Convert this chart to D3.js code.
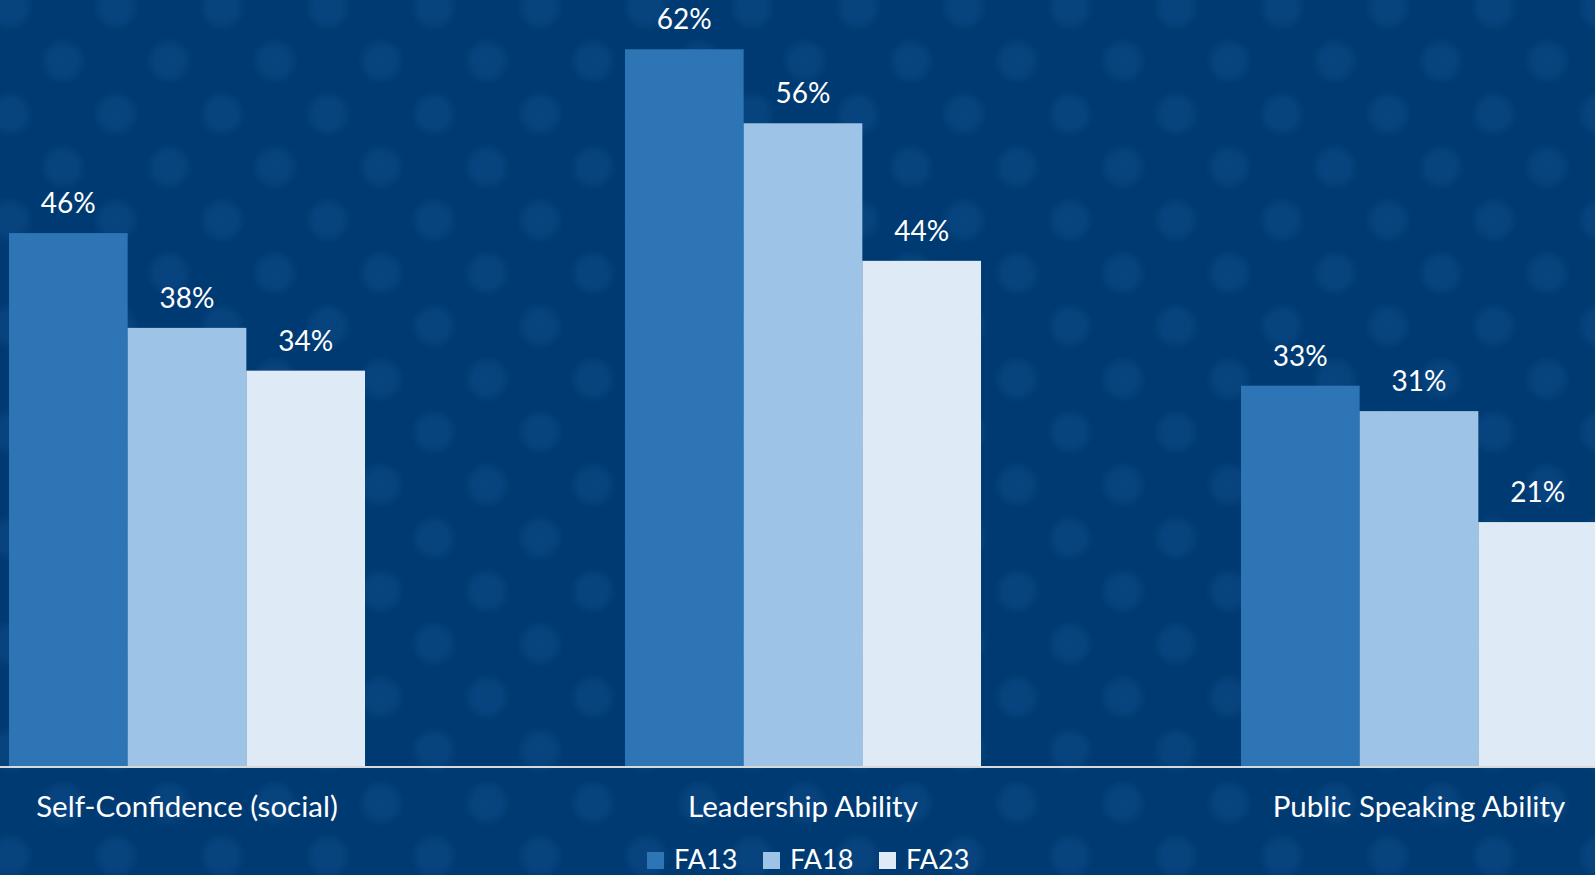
<!DOCTYPE html>
<html>
<head>
<meta charset="utf-8">
<script src="https://cdn.jsdelivr.net/npm/d3@7"></script>
<style>
	html, body { margin: 0; padding: 0; background: #003a72; overflow: hidden; }
	#chart { display: block; }
	text { font-family: Lato, "Open Sans", sans-serif; fill: #ffffff; }
</style>
</head>
<body>
<svg id="chart"></svg>
<script>

var categories = ["Self-Confidence (social)", "Leadership Ability", "Public Speaking Ability"];
var seriesNames = ["FA13", "FA18", "FA23"];
var fa13 = [46.1, 62.0, 32.9];
var fa18 = [37.9, 55.6, 30.7];
var fa23 = [34.2, 43.7, 21.1];
var seriesColors = ["#2e75b6", "#9dc3e6", "#deebf7"];

var w = 1595,
	h = 875,
	baseline = 766;

var formatPct = d3.format(".0f");

var xScale = d3.scaleBand()
	.domain(categories)
	.range([-121, 1727])
	.paddingInner(0.422)
	.paddingOuter(0.211);

var subScale = d3.scaleBand()
	.domain(seriesNames)
	.range([0, xScale.bandwidth()]);

var yScale = d3.scaleLinear()
	.domain([0, 65])
	.range([baseline, baseline - 65 * 11.56]);

var colScale = d3.scaleOrdinal()
	.domain(seriesNames)
	.range(seriesColors);

var svg = d3.select("#chart")
	.attr("width", w)
	.attr("height", h);

// background with the soft dots
var defs = svg.append("defs");

var glow = defs.append("radialGradient")
	.attr("id", "dotFill");
glow.append("stop").attr("offset", "0%").attr("stop-color", "#08447f").attr("stop-opacity", 1);
glow.append("stop").attr("offset", "60%").attr("stop-color", "#08447f").attr("stop-opacity", 0.85);
glow.append("stop").attr("offset", "100%").attr("stop-color", "#08447f").attr("stop-opacity", 0);

var pattern = defs.append("pattern")
	.attr("id", "dots")
	.attr("patternUnits", "userSpaceOnUse")
	.attr("x", 10)
	.attr("y", 8)
	.attr("width", 106)
	.attr("height", 106);

[[0, 0], [106, 0], [0, 106], [106, 106], [53, 53]].forEach(function(p) {
	pattern.append("circle")
		.attr("cx", p[0])
		.attr("cy", p[1])
		.attr("r", 24)
		.attr("fill", "url(#dotFill)");
});

svg.append("rect")
	.attr("width", w)
	.attr("height", h)
	.attr("fill", "#003a72");

svg.append("rect")
	.attr("width", w)
	.attr("height", h)
	.attr("fill", "url(#dots)");

var data = categories.map(function(c, i) {
	return {
		category: c,
		values: [
			{ name: seriesNames[0], val: fa13[i] },
			{ name: seriesNames[1], val: fa18[i] },
			{ name: seriesNames[2], val: fa23[i] }
		]
	};
});

var groups = svg.append("g")
	.attr("class", "groups")
	.selectAll("g")
	.data(data)
	.enter()
	.append("g")
	.attr("transform", function(d) { return "translate(" + xScale(d.category) + ",0)"; });

groups.selectAll("rect")
	.data(function(d) { return d.values; })
	.enter()
	.append("rect")
	.attr("x", function(d) { return subScale(d.name); })
	.attr("y", function(d) { return yScale(d.val); })
	.attr("width", subScale.bandwidth())
	.attr("height", function(d) { return baseline - yScale(d.val); })
	.attr("fill", function(d) { return colScale(d.name); });

groups.selectAll(".label")
	.data(function(d) { return d.values; })
	.enter()
	.append("text")
	.attr("class", "label")
	.attr("x", function(d) { return subScale(d.name) + subScale.bandwidth() / 2; })
	.attr("y", function(d) { return yScale(d.val) - 20; })
	.attr("text-anchor", "middle")
	.style("font-size", "28px")
	.text(function(d) { return formatPct(d.val) + "%"; });

// x axis: line plus category names
var xAxis = d3.axisBottom(xScale)
	.tickSize(0)
	.tickPadding(32);

var axisG = svg.append("g")
	.attr("class", "xAxis")
	.attr("transform", "translate(0," + baseline + ")")
	.call(xAxis);

axisG.select(".domain").remove();
axisG.append("line")
	.attr("x1", 0)
	.attr("x2", w)
	.attr("y1", 1)
	.attr("y2", 1)
	.attr("stroke", "#d9d9d9")
	.attr("stroke-width", 2);

axisG.selectAll(".tick text")
	.attr("dy", null)
	.attr("y", 51)
	.style("font-size", "29.5px")
	.style("font-family", "Lato, 'Open Sans', sans-serif")
	.attr("fill", "#ffffff");

// legend
var legend = svg.append("g")
	.attr("class", "legend")
	.selectAll("g")
	.data(seriesNames)
	.enter()
	.append("g")
	.attr("transform", function(d, i) { return "translate(" + (647 + i * 116) + ",0)"; });

legend.append("rect")
	.attr("y", 852)
	.attr("width", 17)
	.attr("height", 17)
	.attr("fill", function(d) { return colScale(d); });

legend.append("text")
	.attr("x", 27)
	.attr("y", 869)
	.style("font-size", "27px")
	.text(function(d) { return d; });

</script>
</body>
</html>
